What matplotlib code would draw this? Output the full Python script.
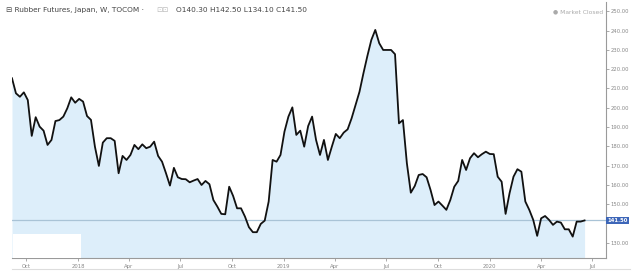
import numpy as np
import pandas as pd
import matplotlib
matplotlib.use("Agg")
import matplotlib.pyplot as plt
import matplotlib.dates as mdates
from matplotlib.patches import Rectangle

# weekly closes, Rubber Futures (TOCOM)
close = [
    215.3, 207.5, 205.7, 208.0, 204.0, 185.4, 195.1, 190.2, 188.1, 180.7,
    183.3, 193.1, 193.6, 195.4, 199.7, 205.4, 202.6, 204.6, 203.2, 195.7,
    193.7, 179.8, 169.8, 181.9, 184.2, 184.2, 182.8, 166.0, 175.0, 172.9,
    175.5,
    180.7, 178.5, 181.0, 179.0, 179.8, 182.4, 175.0, 172.0, 166.0, 159.6,
    168.8, 163.9, 163.0, 162.9, 161.3, 162.2, 163.0, 159.9, 162.0, 160.3,
    152.1, 148.7, 144.9, 144.7, 159.0, 154.2, 147.8, 147.8, 143.5, 138.0,
    135.4, 135.4, 139.7, 141.4, 151.3, 172.9, 172.0, 175.5, 187.6, 195.4,
    200.2, 185.9, 188.1, 179.8, 190.5, 195.4, 183.3, 175.5, 183.3, 172.9,
    179.8, 186.4, 184.2, 187.1, 188.8, 194.5, 201.4, 208.3, 217.9, 226.9,
    235.2,
    240.4, 233.5, 230.0, 230.0, 230.0, 227.8, 191.9, 193.6, 171.2, 155.9,
    159.4, 165.1, 165.6, 163.9, 157.3, 149.5, 151.3, 149.2, 147.0, 152.1,
    159.0, 162.0, 172.9, 167.7, 173.8, 176.4, 174.3, 175.9, 177.2, 176.0,
    175.9, 164.2, 161.6, 144.9, 155.6, 164.2, 168.1, 166.8, 151.3, 147.0,
    141.8, 133.5, 142.6, 143.8, 141.8, 139.2, 140.9, 140.4, 136.9, 136.9,
    133.1, 140.9, 140.9, 141.5,
]
dates = pd.date_range(end="2020-06-17", periods=len(close), freq="7D")
last_close = 141.50
# 140.00 sits under the last-price tag, so it is not labelled
yticks = [130, 150, 160, 170, 180, 190, 200, 210, 220, 230, 240, 250]
xtick_dates = pd.date_range("2017-10-01", "2020-07-01", freq="QS-JAN")
header = "Rubber Futures, Japan, W, TOCOM"
ohlc = "O140.30 H142.50 L134.10 C141.50"

fig = plt.figure(figsize=(6.4, 2.77), dpi=100)
ax = fig.add_axes([12 / 640, 19 / 277, 594 / 640, 256 / 277])

ax.fill_between(dates, close, 100, color="#ddeefa", lw=0, zorder=1)
ax.plot(dates, close, color="#111111", lw=1.3, zorder=3)
ax.axhline(last_close, color="#a9c3d6", lw=0.9, zorder=2)
ax.add_patch(Rectangle((0.002, 0), 0.114, 0.094, transform=ax.transAxes,
                       facecolor="white", edgecolor="none", zorder=4))

ax.set_xlim(dates[0], pd.Timestamp("2020-07-25"))
ax.set_ylim(122.0, 254.9)

ax.yaxis.tick_right()
ax.set_yticks(yticks)
ax.set_yticklabels([f"{v:.2f}" for v in yticks])
ax.set_xticks(xtick_dates)
ax.set_xticklabels([str(d.year) if d.month == 1 else d.strftime("%b") for d in xtick_dates])
ax.tick_params(axis="both", labelsize=3.8, colors="#888888", length=2, width=0.5, pad=2)
ax.tick_params(axis="y", pad=1.5)

for s in ("left", "top"):
    ax.spines[s].set_visible(False)
for s in ("right", "bottom"):
    ax.spines[s].set_color("#9a9a9a")
    ax.spines[s].set_linewidth(0.8)

# last price tag
ax.text(1.003, last_close, f"{last_close:.2f}", transform=ax.get_yaxis_transform(),
        fontsize=3.8, color="white", fontweight="bold", va="center", ha="left",
        bbox=dict(boxstyle="square,pad=0.25", facecolor="#3d66b8", edgecolor="none"),
        zorder=6)

# header
fig.text(6 / 640, 1 - 10 / 277, "\u229f " + header + " \u00b7", fontsize=5.3,
         color="#444444", va="center", ha="left")
fig.text(156 / 640, 1 - 10 / 277, "\u22a1\u22a1", fontsize=5.3, color="#bbbbbb",
         va="center", ha="left")
fig.text(176 / 640, 1 - 10 / 277, ohlc, fontsize=5.3, color="#444444",
         va="center", ha="left")
fig.text(553 / 640, 1 - 12 / 277, "\u25cf Market Closed", fontsize=4.3,
         color="#aaaaaa", va="center", ha="left")

# bottom rule under the date labels
fig.add_artist(plt.Line2D([12 / 640, 630 / 640], [1 - 269 / 277] * 2,
                          color="#dddddd", lw=0.8))

fig.savefig("out.png", dpi=100, facecolor="white")
